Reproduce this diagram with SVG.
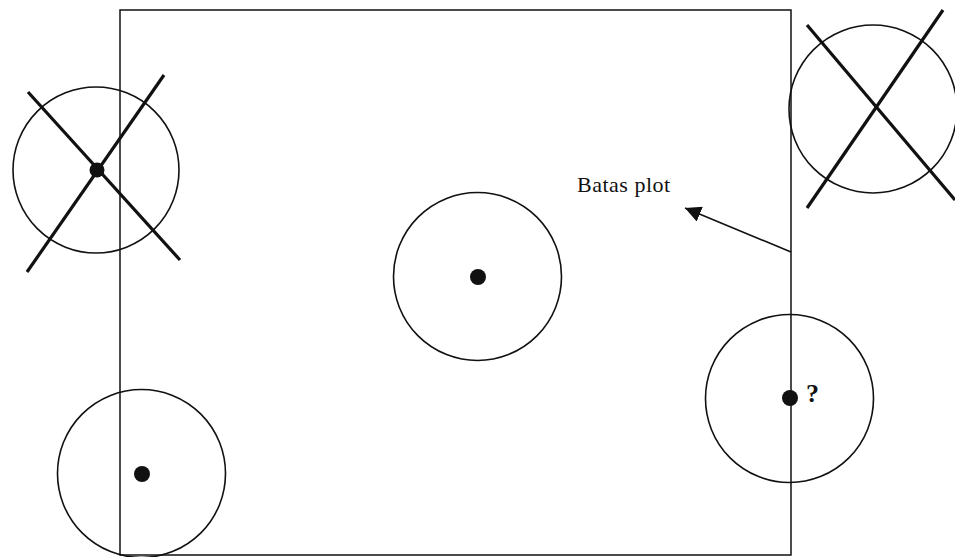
<svg xmlns="http://www.w3.org/2000/svg" width="955" height="557" viewBox="0 0 955 557">
<defs>
<style>
.c{fill:none;stroke:#111;stroke-width:1.6}
.x{stroke:#111;stroke-width:3.2;stroke-linecap:butt}
.d{fill:#111}
.b{fill:none;stroke:#111;stroke-width:1.5}
.t{font-family:"Liberation Serif",serif;fill:#111}
</style>
<marker id="ah" viewBox="0 0 10 10" refX="10" refY="5" markerWidth="16" markerHeight="16" markerUnits="userSpaceOnUse" orient="auto">
<path d="M0,0 L10,5 L0,10 z" fill="#111"/>
</marker>
</defs>
<rect width="955" height="557" fill="#fff"/>
<g id="plot-boundary">
<rect class="b" x="120" y="10" width="671" height="545"/>
</g>
<g id="tree-topleft">
<circle class="c" cx="96" cy="170" r="83"/>
<line class="x" x1="28" y1="92" x2="180" y2="260"/>
<line class="x" x1="164" y1="75" x2="27" y2="272"/>
<circle class="d" cx="97" cy="170" r="7.5"/>
</g>
<g id="tree-topright">
<circle class="c" cx="873" cy="109" r="84"/>
<line class="x" x1="807" y1="25" x2="955" y2="200"/>
<line class="x" x1="943" y1="10" x2="807" y2="208"/>
</g>
<g id="tree-center">
<circle class="c" cx="477.5" cy="276.5" r="84"/>
<circle class="d" cx="478" cy="277" r="8"/>
</g>
<g id="tree-right">
<circle class="c" cx="789.5" cy="398.5" r="84"/>
<circle class="d" cx="790" cy="398" r="8"/>
<text class="t" x="806" y="402" font-size="26" font-weight="bold">?</text>
</g>
<g id="tree-bottomleft">
<circle class="c" cx="141.5" cy="473.5" r="84"/>
<circle class="d" cx="142" cy="474" r="8"/>
</g>
<g id="label">
<text class="t" x="577" y="192" font-size="22" letter-spacing="0.5">Batas plot</text>
</g>
<g id="connectors">
<line x1="791" y1="252" x2="685" y2="208" stroke="#111" stroke-width="1.6" marker-end="url(#ah)"/>
</g>
</svg>
